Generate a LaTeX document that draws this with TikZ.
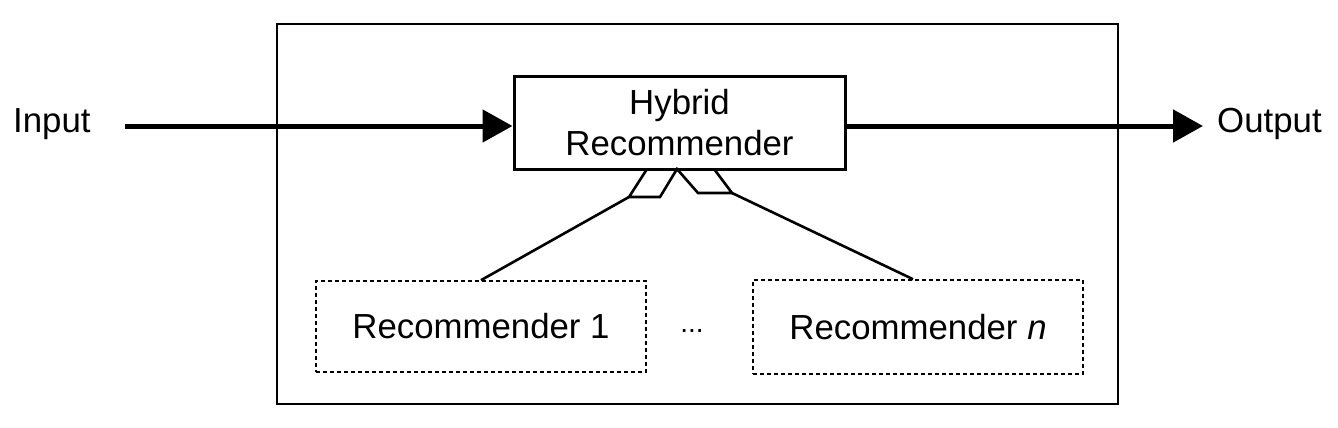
\documentclass[tikz,border=0pt]{standalone}
\usepackage{fontspec}
\setmainfont{Liberation Sans}
\usetikzlibrary{arrows.meta}
\begin{document}
\begin{tikzpicture}[x=1pt,y=-1pt,
  lbl/.style={font=\fontsize{34.8}{41}\selectfont, inner sep=0pt},
  dashbox/.style={draw, line width=1.6pt, dash pattern=on 4pt off 3pt, minimum width=330pt, minimum height=91pt, inner sep=0pt},
  flow/.style={line width=5pt, -{Triangle[length=30pt,width=32pt]}},
  link/.style={line width=2.6pt, line join=miter}]
\useasboundingbox (0,0) rectangle (1338,428);
\node[draw, line width=2pt, minimum width=841pt, minimum height=380pt, inner sep=0pt] (outer) at (697.5,214) {};
\node[draw, line width=3pt, minimum width=331pt, minimum height=93pt, inner sep=0pt, align=center, lbl] (hyb) at (679.5,122.5) {Hybrid\\Recommender};
\node[lbl, anchor=west] (in) at (13,124) {Input};
\node[lbl, anchor=west] (out) at (1217,124) {Output};
\coordinate (inStart) at (125,126);
\coordinate (outEnd) at (1203,126);
\draw[flow] (inStart) -- (hyb.west |- inStart);
\draw[flow] (hyb.east |- outEnd) -- (outEnd);
\node[dashbox, lbl] (r1) at (481,326.5) {Recommender 1};
\node[dashbox, lbl, minimum height=94pt] (rn) at (918,327) {Recommender \textit{n}};
\node[font=\fontsize{28}{30}\selectfont, inner sep=0pt] (dots) at (692,331) {...};
\coordinate (a1) at (647,169);
\coordinate (a2) at (629,197);
\coordinate (a3) at (660,197);
\coordinate (apex) at (677,169);
\coordinate (b2) at (698,193);
\coordinate (b3) at (732,193);
\coordinate (b4) at (714,169);
\draw[link] (a1) -- (a2) -- (a3) -- (apex) -- (b2) -- (b3) -- (b4);
\draw[link] (a2) -- (r1.north);
\draw[link] (b3) -- ([xshift=-5pt]rn.north);
\end{tikzpicture}
\end{document}
